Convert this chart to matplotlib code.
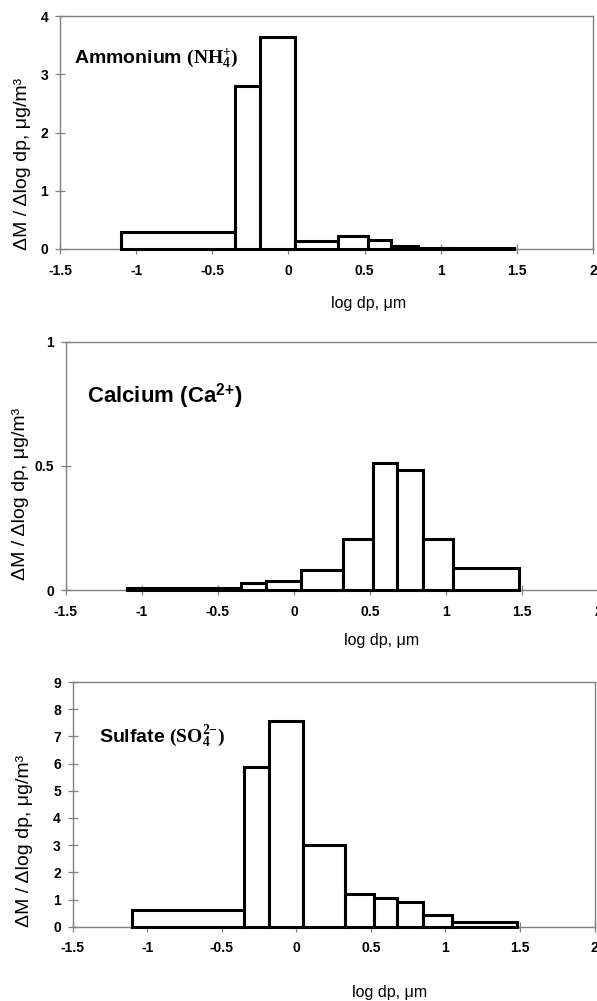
import numpy as np
import matplotlib
matplotlib.use('Agg')
from matplotlib import pyplot as plt
from matplotlib.ticker import FuncFormatter, MultipleLocator

plt.rcParams['font.family'] = ['Liberation Sans', 'DejaVu Sans']
plt.rcParams['font.weight'] = 'bold'
plt.rcParams['mathtext.fontset'] = 'custom'
plt.rcParams['mathtext.rm'] = 'Liberation Serif:bold'
plt.rcParams['mathtext.bf'] = 'Liberation Serif:bold'
plt.rcParams['mathtext.it'] = 'Liberation Serif:italic:bold'
plt.rcParams['mathtext.sf'] = 'Liberation Sans:bold'

# impactor stage boundaries, log10(dp / um)
edges = [-1.1, -0.35, -0.185, 0.045, 0.325, 0.52, 0.675, 0.85, 1.045, 1.48]

ammonium = [0.30, 2.79, 3.64, 0.13, 0.23, 0.15, 0.05, 0.02, 0.01]
calcium = [0.01, 0.03, 0.038, 0.08, 0.205, 0.51, 0.483, 0.205, 0.09]
sulfate = [0.61, 5.88, 7.55, 2.99, 1.20, 1.04, 0.90, 0.43, 0.16]

titles = [r'Ammonium $(\mathrm{NH}_4^{{+}})$',
          r'Calcium (Ca$^{\mathsf{2{+}}}$)',
          r'Sulfate $(\mathrm{SO}_4^{2{-}})$']
ylims = [4, 1, 9]
ysteps = [1, 0.5, 1]

xlabel = 'log dp, μm'
ylabel = 'ΔM / Δlog dp, μg/m³'

W, H = 597, 1001
# (left, right, top, bottom) in pixels
boxes = [(60, 593, 16, 249), (66, 598, 341.7, 590), (72.7, 594.6, 682, 926.7)]
xlab_pos = [(0.578, -0.232), (0.594, -0.205), (0.608, -0.267)]
ylab_pos = [(-0.071, 0.365), (-0.085, 0.387), (-0.093, 0.35)]
title_pos = [(-1.408, 3.19), (-1.362, 0.757), (-1.324, 6.80)]
title_size = [14, 16, 14]

fig = plt.figure(figsize=(W / 100, H / 100), dpi=100)
grey = '#808080'
widths = np.diff(edges)

for i, vals in enumerate([ammonium, calcium, sulfate]):
    l, r, t, b = boxes[i]
    ax = fig.add_axes([l / W, 1 - b / H, (r - l) / W, (b - t) / H])
    ax.bar(edges[:-1], vals, width=widths, align='edge', color='white',
           edgecolor='black', linewidth=2.2, clip_on=False, zorder=3)
    ax.set_xlim(-1.5, 2)
    ax.set_ylim(0, ylims[i])
    ax.xaxis.set_major_locator(MultipleLocator(0.5))
    ax.yaxis.set_major_locator(MultipleLocator(ysteps[i]))
    fmt = FuncFormatter(lambda v, p: f'{v:g}')
    ax.xaxis.set_major_formatter(fmt)
    ax.yaxis.set_major_formatter(fmt)
    ax.tick_params(direction='inout', length=7, width=0.9, color=grey,
                   labelsize=10, pad=5)
    ax.tick_params(axis='x', pad=7)
    for s in ax.spines.values():
        s.set_color(grey)
        s.set_linewidth(1.0)
    if i == 1:
        ax.spines['right'].set_visible(False)

    ax.set_xlabel(xlabel, fontsize=11.5)
    ax.xaxis.set_label_coords(*xlab_pos[i])
    ax.xaxis.label.set_va('center')
    ax.set_ylabel(ylabel, fontsize=14)
    ax.yaxis.set_label_coords(*ylab_pos[i])
    ax.yaxis.label.set_va('center')

    ax.text(title_pos[i][0], title_pos[i][1], titles[i], fontsize=title_size[i],
            ha='left', va='baseline', zorder=4)

fig.savefig('out.png', dpi=100)
